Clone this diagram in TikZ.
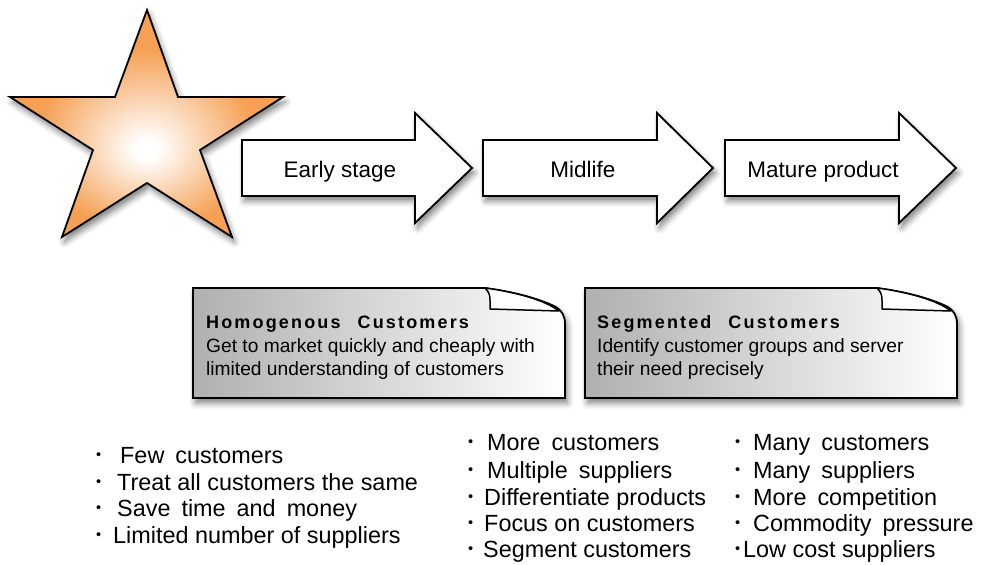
\documentclass[tikz,border=0pt]{standalone}
\usepackage{graphicx}
\usepackage{fontspec}
\setmainfont{Liberation Sans}
\newfontfamily\headfont[LetterSpace=12]{Liberation Sans Bold}
\usetikzlibrary{shadows.blur}
\definecolor{staror}{RGB}{245,160,84}
\definecolor{notegray}{RGB}{176,176,176}
\pgfdeclareradialshading{starshade}{\pgfpoint{0bp}{-6bp}}{color(0bp)=(white); color(2bp)=(white); color(20bp)=(staror); color(50bp)=(staror)}
\newcommand\bul{\raisebox{0.13em}{\scalebox{0.62}{•}}}
\newcommand\W{\hspace{11pt}}
\tikzset{
  outline/.style={draw=black, line width=1.8pt, line join=miter},
  shad/.style={blur shadow={shadow xshift=2.5pt, shadow yshift=-5pt, shadow blur radius=6pt, shadow opacity=50}},
  arrowbox/.style={outline, shad, fill=white},
  notebox/.style={outline, shad, left color=notegray, right color=white},
  foldbox/.style={draw=black, line width=1.5pt, fill=white, line join=round},
  lbl/.style={font=\fontsize{22.5}{22.5}\selectfont, anchor=base, inner sep=0pt},
  body/.style={font=\fontsize{19.2}{23}\selectfont, anchor=base west, inner sep=0pt},
  head/.style={font=\headfont\fontsize{18}{18}\selectfont, anchor=base west, inner sep=0pt},
  item/.style={font=\fontsize{23.4}{27}\selectfont, anchor=base west, inner sep=0pt}
}
\begin{document}
\begin{tikzpicture}[x=1pt,y=-1pt]
\useasboundingbox (0,0) rectangle (1005,565);
% star
\path[outline, shad, shading=starshade] (147,10) -- (178,97) -- (283,97) -- (200,150) -- (232,237) -- (147,183) -- (62,237) -- (93,150) -- (10,97) -- (115,97) -- cycle;
% arrows
\path[arrowbox] (242,140) -- (415,140) -- (415,113) -- (472,168) -- (415,223) -- (415,196) -- (242,196) -- cycle;
\path[arrowbox] (483,140) -- (657,140) -- (657,113) -- (713,168) -- (657,223) -- (657,196) -- (483,196) -- cycle;
\path[arrowbox] (725,140) -- (899,140) -- (899,113) -- (956,168) -- (899,223) -- (899,196) -- (725,196) -- cycle;
\node[lbl] (early) at (340,177) {Early stage};
\node[lbl] (mid) at (583,177) {Midlife};
\node[lbl] (mature) at (823,177) {Mature product};
% notes
\foreach \dx in {0,392}{
\begin{scope}[shift={(\dx,0)}]
\path[notebox] (193,288) -- (485,288) .. controls (515,292) and (540,299) .. (556,307) .. controls (562,311) and (565,316) .. (565,324) -- (565,398) -- (193,398) -- cycle;
\path[foldbox] (485,288) .. controls (489,292) and (490,295) .. (490,300) -- (490,309) -- (559,311) .. controls (545,300) and (515,292) .. (485,288) -- cycle;
\end{scope}}
\node[head] (h1) at (206,328) {Homogenous\hspace{17pt}Customers};
\node[body] (b1a) at (206,352) {Get to market quickly and cheaply with};
\node[body] (b1b) at (206,375) {limited understanding of customers};
\node[head] (h2) at (597,328) {Segmented\hspace{17pt}Customers};
\node[body] (b2a) at (597,352) {Identify customer groups and server};
\node[body] (b2b) at (597,375) {their need precisely};
% lists
\node[item] (a1) at (96,463) {\makebox[24pt][l]{\bul}Few\W customers};
\node[item] (a2) at (96,490) {\makebox[21pt][l]{\bul}Treat all customers the same};
\node[item] (a3) at (96,516) {\makebox[21pt][l]{\bul}Save\W time\W and\W money};
\node[item] (a4) at (96,543) {\makebox[17pt][l]{\bul}Limited number of suppliers};
\node[item] (m1) at (468,450) {\makebox[19pt][l]{\bul}More\W customers};
\node[item] (m2) at (468,478) {\makebox[19pt][l]{\bul}Multiple\W suppliers};
\node[item] (m3) at (468,505) {\makebox[16pt][l]{\bul}Differentiate products};
\node[item] (m4) at (468,531) {\makebox[16pt][l]{\bul}Focus on customers};
\node[item] (m5) at (468,557) {\makebox[15pt][l]{\bul}Segment customers};
\node[item] (c1) at (735,450) {\makebox[18pt][l]{\bul}Many\W customers};
\node[item] (c2) at (735,478) {\makebox[18pt][l]{\bul}Many\W suppliers};
\node[item] (c3) at (735,505) {\makebox[18pt][l]{\bul}More\W competition};
\node[item] (c4) at (735,531) {\makebox[18pt][l]{\bul}Commodity\W pressure};
\node[item] (c5) at (735,557) {\makebox[8pt][l]{\bul}Low cost suppliers};
\end{tikzpicture}
\end{document}
